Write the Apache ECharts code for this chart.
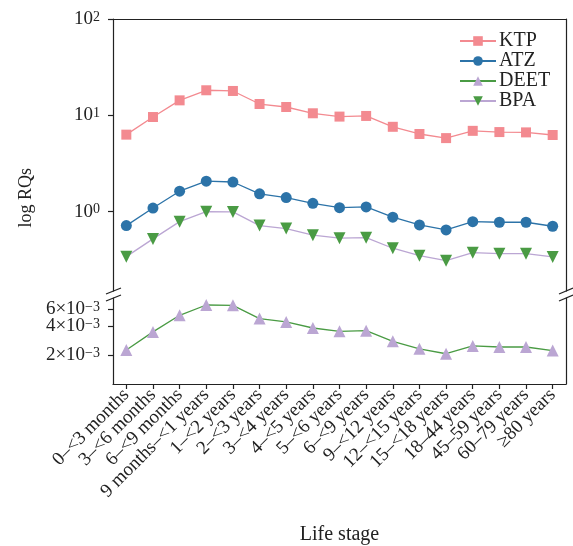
<!DOCTYPE html>
<html>
<head>
<meta charset="utf-8">
<script src="https://cdn.jsdelivr.net/npm/echarts@6/dist/echarts.min.js"></script>
<style>
html,body{margin:0;padding:0;background:#fff;}
#chart{width:573px;height:546px;}
</style>
</head>
<body>
<div id="chart"></div>
<script>
const categories = ['0–<3 months','3–<6 months','6–<9 months','9 months–<1 years','1–<2 years','2–<3 years','3–<4 years','4–<5 years','5–<6 years','6–<9 years','9–<12 years','12–<15 years','15–<18 years','18–44 years','45–59 years','60–79 years','≥80 years'];
const KTP  = [6.3, 9.6, 14.3, 18.2, 17.9, 13.1, 12.2, 10.5, 9.7, 9.85, 7.6, 6.4, 5.8, 6.9, 6.7, 6.65, 6.25];
const ATZ  = [0.716, 1.09, 1.63, 2.07, 2.03, 1.53, 1.40, 1.22, 1.10, 1.12, 0.875, 0.727, 0.646, 0.787, 0.776, 0.776, 0.705];
const BPA  = [0.341, 0.521, 0.787, 1.0, 0.993, 0.716, 0.667, 0.569, 0.530, 0.537, 0.417, 0.349, 0.31, 0.375, 0.366, 0.366, 0.339];
const DEET = [0.00225, 0.00347, 0.00516, 0.0066, 0.00655, 0.00477, 0.0044, 0.00381, 0.00352, 0.00357, 0.00277, 0.00232, 0.00206, 0.00248, 0.00242, 0.00242, 0.00222];
const upperTicks = [1, 10, 100];
const lowerTicksA = [0.002, 0.006];
const lowerTicksB = [0.004];

const FONT = 'Liberation Serif';
const INK = '#222';
const chart = echarts.init(document.getElementById('chart'), null, {renderer: 'canvas'});

const rich = {
  b: {fontFamily: FONT, fontSize: 19, lineHeight: 10, color: INK},
  s: {fontFamily: FONT, fontSize: 14, lineHeight: 10, color: INK, padding: [0, 0, 4, 0]}
};
function upperFmt(v) {
  const e = Math.log10(v);
  if (Math.abs(e - Math.round(e)) > 1e-6) return '';
  return '{b|10}{s|' + Math.round(e) + '}';
}
function lowerFmt(v) {
  const m = v / 0.001;
  if (Math.abs(m - Math.round(m)) > 1e-6) return '';
  return '{b|' + Math.round(m) + '×10}{s|−3}';
}
const lineAxis = {show: true, onZero: false, lineStyle: {color: INK, width: 1.2}};
const tick = {show: true, length: 5, lineStyle: {color: INK, width: 1.2}};
const LOWER_MIN = 0.001, LOWER_MAX = 0.0078;

function lowerAxis(ticks, showLine) {
  return {type: 'log', logBase: 10, gridIndex: 1, min: LOWER_MIN, max: LOWER_MAX, position: 'left',
    axisLine: showLine ? lineAxis : {show: false, onZero: false},
    axisTick: Object.assign({customValues: ticks}, tick),
    axisLabel: {customValues: ticks, formatter: lowerFmt, rich: rich, margin: 13, hideOverlap: false, showMinLabel: true, showMaxLabel: true},
    splitLine: {show: false}, minorTick: {show: false}};
}

const option = {
  animation: false,
  backgroundColor: '#fff',
  grid: [
    {left: 113, right: 7, top: 19, height: 272, containLabel: false, outerBoundsMode: 'none'},
    {left: 113, right: 7, top: 298, height: 86, containLabel: false, outerBoundsMode: 'none'}
  ],
  legend: {
    data: ['KTP', 'ATZ', 'DEET', 'BPA'],
    orient: 'vertical',
    left: 459, top: 31,
    itemWidth: 36, itemHeight: 12, itemGap: 0,
    padding: 0,
    textStyle: {fontFamily: FONT, fontSize: 20, lineHeight: 19.5, color: INK, padding: [0, 0, 0, -2]}
  },
  xAxis: [
    {type: 'category', gridIndex: 0, data: categories, position: 'top',
     axisLine: lineAxis, axisTick: {show: false}, axisLabel: {show: false}, splitLine: {show: false}},
    {type: 'category', gridIndex: 1, data: categories, position: 'bottom',
     axisLine: lineAxis, axisTick: Object.assign({alignWithLabel: true}, tick),
     axisLabel: {interval: 0, rotate: 45, fontFamily: FONT, fontSize: 19, color: INK, margin: 8, hideOverlap: false},
     splitLine: {show: false}}
  ],
  yAxis: [
    {type: 'log', logBase: 10, gridIndex: 0, min: 0.15, max: 100, position: 'left',
     axisLine: lineAxis, axisTick: Object.assign({customValues: upperTicks}, tick),
     axisLabel: {customValues: upperTicks, formatter: upperFmt, rich: rich, margin: 13, hideOverlap: false, showMinLabel: true, showMaxLabel: true},
     splitLine: {show: false}, minorTick: {show: false}},
    {type: 'value', gridIndex: 0, position: 'right', min: 0, max: 1,
     axisLine: lineAxis, axisTick: {show: false}, axisLabel: {show: false}, splitLine: {show: false}},
    lowerAxis(lowerTicksA, true),
    {type: 'value', gridIndex: 1, position: 'right', min: 0, max: 1,
     axisLine: lineAxis, axisTick: {show: false}, axisLabel: {show: false}, splitLine: {show: false}},
    lowerAxis(lowerTicksB, false)
  ],
  series: [
    {name: 'KTP', type: 'line', xAxisIndex: 0, yAxisIndex: 0, data: KTP,
     symbol: 'rect', symbolSize: 10, showAllSymbol: true,
     itemStyle: {color: '#F38A90'}, lineStyle: {color: '#F38A90', width: 1.3}},
    {name: 'ATZ', type: 'line', xAxisIndex: 0, yAxisIndex: 0, data: ATZ,
     symbol: 'circle', symbolSize: 11, showAllSymbol: true,
     itemStyle: {color: '#2C73A8'}, lineStyle: {color: '#2C73A8', width: 1.3}},
    {name: 'DEET', type: 'line', xAxisIndex: 1, yAxisIndex: 2, data: DEET,
     symbol: 'triangle', symbolSize: 12, showAllSymbol: true,
     itemStyle: {color: '#BBA6D3'}, lineStyle: {color: '#4A9B44', width: 1.3}},
    {name: 'BPA', type: 'line', xAxisIndex: 0, yAxisIndex: 0, data: BPA,
     symbol: 'triangle', symbolRotate: 180, symbolSize: 12, showAllSymbol: true,
     itemStyle: {color: '#4A9B44'}, lineStyle: {color: '#BBA6D3', width: 1.3}}
  ],
  graphic: [
    {type: 'text', left: 17, top: 168, rotation: Math.PI / 2,
     style: {text: 'log RQs', font: '18px "Liberation Serif"', fill: INK}},
    {type: 'text', x: 339.5, y: 535,
     style: {text: 'Life stage', font: '20px "Liberation Serif"', fill: INK, align: 'center', verticalAlign: 'middle'}},
    {type: 'line', shape: {x1: 106, y1: 294, x2: 121, y2: 288}, style: {stroke: INK, lineWidth: 1.2}},
    {type: 'line', shape: {x1: 106, y1: 301, x2: 121, y2: 295}, style: {stroke: INK, lineWidth: 1.2}},
    {type: 'line', shape: {x1: 559, y1: 294, x2: 573, y2: 288}, style: {stroke: INK, lineWidth: 1.2}},
    {type: 'line', shape: {x1: 559, y1: 301, x2: 573, y2: 295}, style: {stroke: INK, lineWidth: 1.2}}
  ]
};
chart.setOption(option);
</script>
</body>
</html>
